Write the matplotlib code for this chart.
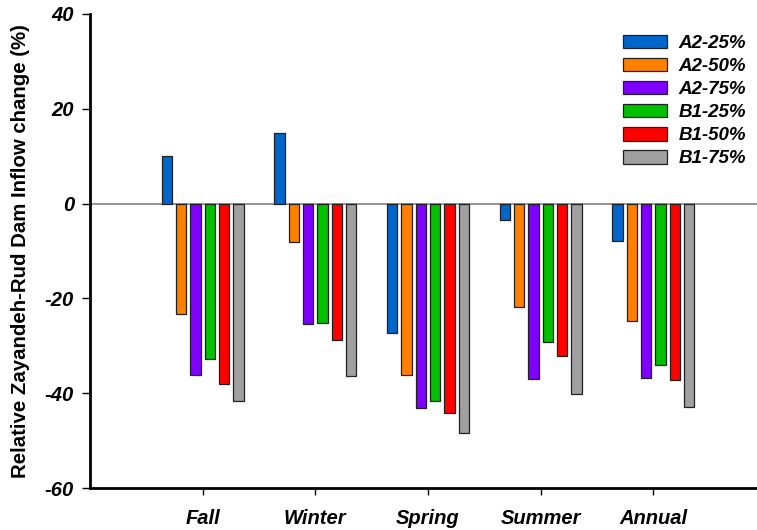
import numpy as np
import matplotlib
matplotlib.use('Agg')
from matplotlib import pyplot as plt

plt.rcParams['font.family'] = ['Liberation Sans', 'DejaVu Sans']
plt.rcParams['axes.unicode_minus'] = False

seasons = ['Fall', 'Winter', 'Spring', 'Summer', 'Annual']
scenarios = ['A2-25%', 'A2-50%', 'A2-75%', 'B1-25%', 'B1-50%', 'B1-75%']
colors = ['#0066CC', '#FF8000', '#8000FF', '#00C000', '#FF0000', '#A0A0A0']

# relative inflow change (%) per scenario, one value per season
a2_25 = [10.0, 15.0, -27.4, -3.4, -7.9]
a2_50 = [-23.2, -8.2, -36.1, -21.8, -24.8]
a2_75 = [-36.1, -25.3, -43.1, -36.9, -36.7]
b1_25 = [-32.7, -25.1, -41.6, -29.1, -34.0]
b1_50 = [-38.1, -28.8, -44.1, -32.1, -37.2]
b1_75 = [-41.6, -36.3, -48.3, -40.2, -42.9]
series = [a2_25, a2_50, a2_75, b1_25, b1_50, b1_75]

fig = plt.figure(figsize=(7.57, 5.30), dpi=100)
ax = fig.add_axes([0.1189, 0.0792, 0.8811, 0.8944])

x = np.arange(len(seasons))
step = 0.127
width = 0.093
for i, vals in enumerate(series):
    ax.bar(x + (i - 2.5) * step, vals, width, color=colors[i],
           edgecolor='#202020', linewidth=0.9, label=scenarios[i], zorder=3)

ax.axhline(0, color='#808080', linewidth=1.2, zorder=2)

ax.set_xlim(-1, 4.92)
ax.set_ylim(-60, 40)
ax.set_yticks([-60, -40, -20, 0, 20, 40])
ax.set_xticks(x)
ax.set_xticklabels(seasons, fontsize=14.5, fontweight='bold', fontstyle='italic')
for lab in ax.get_yticklabels():
    lab.set_fontsize(14.5)
    lab.set_fontweight('bold')
    lab.set_fontstyle('italic')

ax.spines['top'].set_visible(False)
ax.spines['right'].set_visible(False)
ax.spines['left'].set_linewidth(2)
ax.spines['bottom'].set_linewidth(2)
ax.tick_params(axis='y', length=6, width=1, pad=5.5)
ax.tick_params(axis='x', length=5, width=1, pad=10)

ax.set_ylabel('Relative Zayandeh-Rud Dam Inflow change (%)', fontsize=14.7,
              fontweight='bold', labelpad=11)

leg = ax.legend(loc='upper right', bbox_to_anchor=(1.009, 0.992), frameon=False,
                prop={'size': 13.5, 'weight': 'bold', 'style': 'italic'},
                handlelength=2.35, handleheight=0.75, labelspacing=0.3,
                handletextpad=0.6)

fig.savefig('out.png', dpi=100)
